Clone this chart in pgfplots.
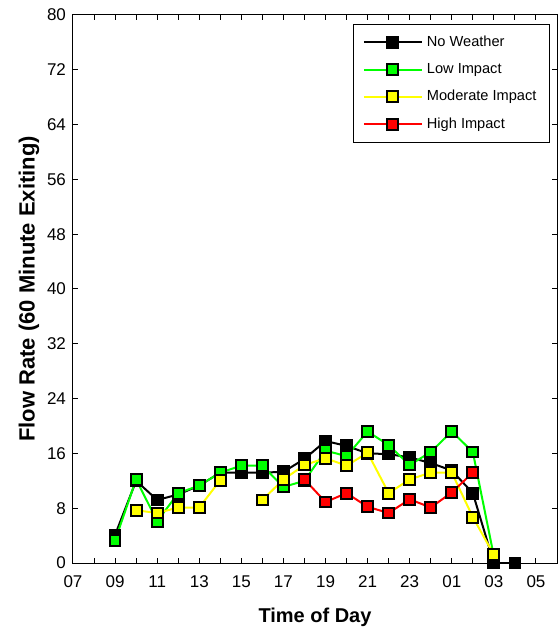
\documentclass[border=0pt]{standalone}
\usepackage{pgfplots}
\pgfplotsset{compat=1.18}
\usepackage{fontspec}
\setmainfont{Liberation Sans}
\begin{document}
\begin{tikzpicture}
\useasboundingbox (-36.5pt,-34pt) rectangle (243pt,281.5pt);
\begin{axis}[
  at={(0,0)}, anchor=south west,
  scale only axis, width=242pt, height=274pt,
  xmin=7, xmax=30, ymin=0, ymax=80,
  xtick={7,9,...,29}, minor xtick={8,10,...,30},
  xticklabels={07,09,11,13,15,17,19,21,23,01,03,05},
  ytick={0,8,...,80},
  tick align=inside, major tick length=2.5pt, minor tick length=2.5pt,
  tick style={black, line width=0.5pt},
  axis line style={line width=0.5pt},
  /pgf/number format/assume math mode=true,
  ticklabel style={font=\fontsize{8.5}{10}\selectfont},
  xticklabel style={yshift=-3pt},
  xlabel={\textbf{Time of Day}}, ylabel={\textbf{Flow Rate (60 Minute Exiting)}},
  xlabel style={font=\fontsize{10}{12}\selectfont, yshift=-3pt},
  ylabel style={font=\fontsize{11}{13}\selectfont, yshift=-3pt},
  unbounded coords=jump,
  every axis plot/.append style={line width=1pt, mark=square*, mark size=2.7pt},
  legend style={at={(0.9855,0.9836)}, anchor=north east, draw=black, line width=0.5pt,
     font=\fontsize{7.3}{8}\selectfont, row sep=3pt, inner ysep=3.5pt, inner xsep=4.5pt},
  legend cell align=left,
  legend image code/.code={
     \draw[#1, mark repeat=2, mark phase=2] plot coordinates {(0cm,0cm) (0.5cm,0cm) (1.02cm,0cm)};},
]
\addplot[black, mark options={draw=black, fill=black, solid}] coordinates {
(9,4.1) (10,12) (11,9.2) (12,10) (13,11.3) (14,13.2) (15,13.2) (16,13.2) (17,13.3) (18,15.2)
(19,17.8) (20,17.1) (21,16.0) (22,15.9) (23,15.4) (24,14.6) (25,13.5) (26,10.2) (27,0) (28,0)};
\addlegendentry{No Weather}
\addplot[color={rgb,1:red,0;green,1;blue,0}, mark options={draw=black, fill={rgb,1:red,0;green,1;blue,0}, solid}] coordinates {
(9,3.3) (10,12.2) (11,6.1) (12,10.2) (13,11.3) (14,13.2) (15,14.2) (16,14.2) (17,11.1) (18,12)
(19,16.4) (20,15.6) (21,19.2) (22,17.2) (23,14.3) (24,16.2) (25,19.2) (26,16.2) (27,1)};
\addlegendentry{Low Impact}
\addplot[color={rgb,1:red,1;green,1;blue,0}, mark options={draw=black, fill={rgb,1:red,1;green,1;blue,0}, solid}] coordinates {
(10,7.7) (11,7.3) (12,8.1) (13,8.1) (14,12.1) (15,nan) (16,9.2) (17,12.2) (18,14.3)
(19,15.3) (20,14.2) (21,16.1) (22,10.2) (23,12.2) (24,13.2) (25,13.2) (26,6.7) (27,1.2)};
\addlegendentry{Moderate Impact\hspace{7pt}}
\addplot[color={rgb,1:red,1;green,0;blue,0}, mark options={draw=black, fill={rgb,1:red,1;green,0;blue,0}, solid}] coordinates {
(18,12.2) (19,8.9) (20,10.2) (21,8.2) (22,7.3) (23,9.3) (24,8.1) (25,10.3) (26,13.2)};
\addlegendentry{High Impact}
\end{axis}
\end{tikzpicture}
\end{document}
